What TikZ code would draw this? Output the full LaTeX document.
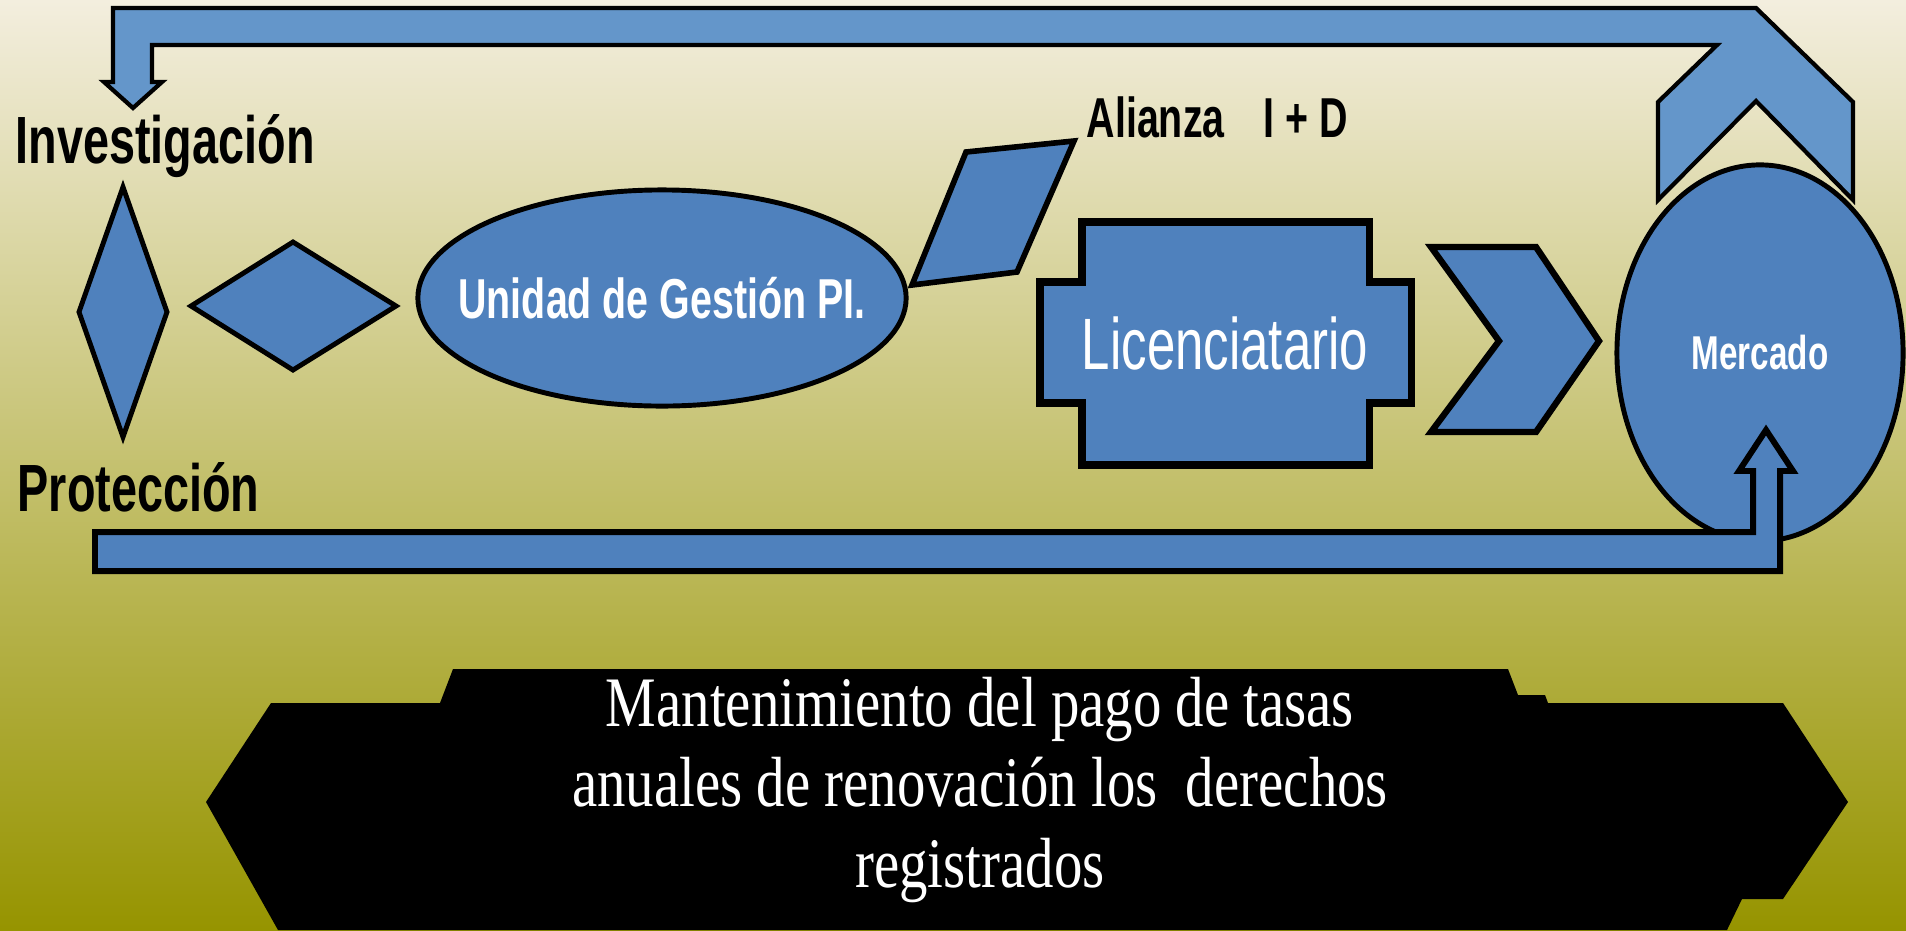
\documentclass[tikz,border=0pt]{standalone}
\usepackage{fontspec}
\usetikzlibrary{shapes.geometric}
\setmainfont{Liberation Serif}
\newfontfamily\narsans{Liberation Sans}[FakeStretch=0.7]
\newfontfamily\narserif{Liberation Serif}[FakeStretch=0.8]
\definecolor{blockblue}{RGB}{79,129,189}
\definecolor{bandblue}{RGB}{100,150,202}
\definecolor{bgtop}{RGB}{243,238,222}
\definecolor{bgmid}{RGB}{196,191,122}
\definecolor{bgbot}{RGB}{150,148,0}
\tikzstyle{block}=[draw=black,fill=blockblue,line width=1.4pt,line join=miter]
\tikzstyle{band}=[draw=black,fill=bandblue,line width=1.2pt,line join=miter]
\tikzstyle{sidetext}=[inner sep=0pt,anchor=base west,font=\narsans\bfseries\fontsize{19}{22}\selectfont]
\tikzstyle{intext}=[inner sep=0pt,text=white,align=center]

\begin{document}
\begin{tikzpicture}[x=0.01cm,y=-0.01cm]
  \useasboundingbox (0,0) rectangle (1906,930);
  \shade[top color=bgtop,middle color=bgmid,bottom color=bgbot] (0,0) rectangle (1906,930);

  \draw[band] (152,45) -- (1717,45) -- (1658,102) -- (1658,200) -- (1756,101) -- (1853,200)
    -- (1853,102) -- (1756,8) -- (113,8) -- (113,82) -- (104,82) -- (133,108) -- (162,82)
    -- (152,82) -- cycle;

  \draw[block] (123,187) -- (167,312) -- (123,437) -- (79,312) -- cycle;
  \draw[block] (293,242) -- (396,306) -- (293,370) -- (191,306) -- cycle;
  \node (ugp) [block,ellipse,inner sep=0pt,minimum width=4.88cm,minimum height=2.16cm] at (662,298) {};
  \node (ugptext) [intext,font=\narsans\bfseries\fontsize{16}{18}\selectfont] at (ugp) {Unidad de Gestión PI.};
  \draw[block,line width=1.6pt] (966,152) -- (1074,141) -- (1017,272) -- (912,285) -- cycle;
  \draw[block,line width=2pt] (1082,222) -- (1369,222) -- (1369,282) -- (1411,282) -- (1411,403)
    -- (1369,403) -- (1369,465) -- (1082,465) -- (1082,403) -- (1040,403) -- (1040,282)
    -- (1082,282) -- cycle;
  \draw[block,line width=1.8pt] (1431,247) -- (1536,247) -- (1599,341) -- (1536,432) -- (1431,432)
    -- (1499,341) -- cycle;
  \node (merc) [block,ellipse,inner sep=0pt,minimum width=2.86cm,minimum height=3.76cm,
    text=white,font=\narsans\bfseries\fontsize{13.5}{16}\selectfont] at (1760,353) {Mercado};
  \draw[block,line width=1.7pt] (95,532) -- (1753,532) -- (1753,471) -- (1739,471) -- (1766,430)
    -- (1793,471) -- (1780,471) -- (1780,571) -- (95,571) -- cycle;

  \node (inv) [sidetext] at (15,163) {Investigación};
  \node (prot) [sidetext] at (17,511) {Protección};
  \node (ali) [sidetext,font=\narsans\bfseries\fontsize{16}{18}\selectfont] at (1086,137) {Alianza\hspace{0.7em}I + D};
  \node (lic) [intext,font=\narsans\fontsize{20.7}{24}\selectfont] at (1225,343) {Licenciatario};

  \fill[black] (453,669) -- (1508,669) -- (1518,695) -- (1545,695) -- (1548,703) -- (1783,703)
    -- (1848,802) -- (1783,899) -- (1742,899) -- (1727,930) -- (278,930) -- (206,802)
    -- (271,703) -- (440,703) -- cycle;
  \node (tasas) [intext,font=\narserif\fontsize{20.2}{23}\selectfont] at (980,790)
    {Mantenimiento del pago de tasas\\ anuales de renovación los\ \ derechos\\ registrados};
\end{tikzpicture}
\end{document}
